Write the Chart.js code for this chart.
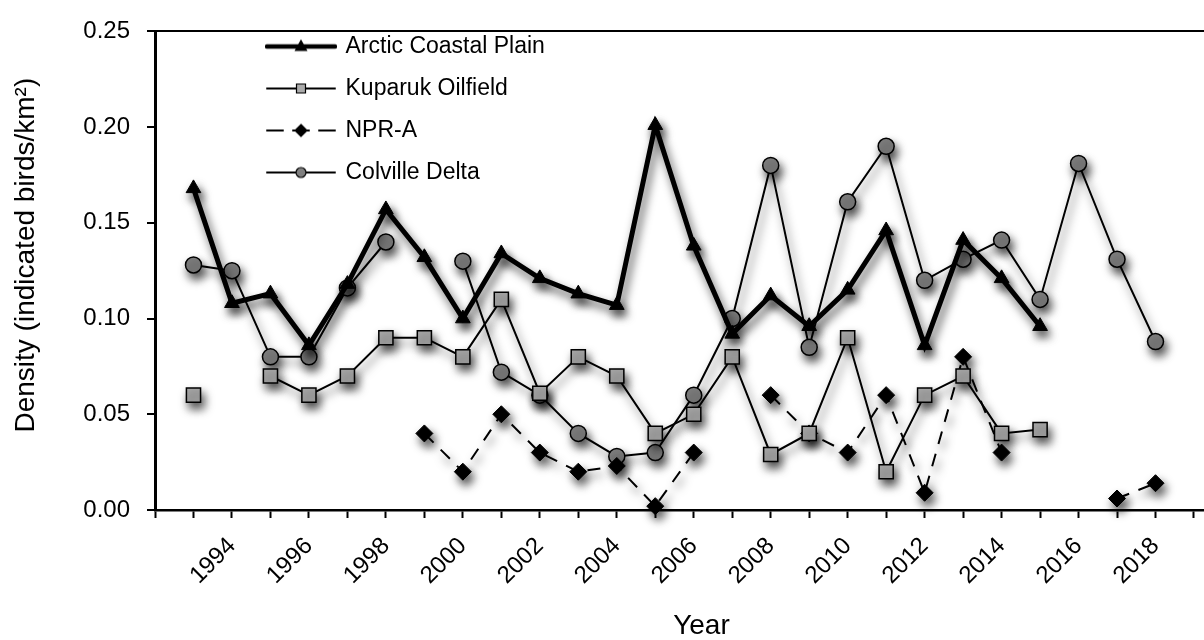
<!DOCTYPE html>
<html>
<head>
<meta charset="utf-8">
<title>Density by year</title>
<script src="https://cdn.jsdelivr.net/npm/chart.js@4.4.1/dist/chart.umd.min.js"></script>
<style>
  html, body { margin: 0; padding: 0; background: #fff; overflow: hidden; }
  /* the plot box runs on past the right edge of the window, as in the source figure */
  #wrap { width: 1267px; height: 640px; }
</style>
</head>
<body>
<div id="wrap"><canvas id="density"></canvas></div>
<script>
// survey years, one entry per year
var years = [1993, 1994, 1995, 1996, 1997, 1998, 1999, 2000, 2001, 2002, 2003, 2004, 2005,
             2006, 2007, 2008, 2009, 2010, 2011, 2012, 2013, 2014, 2015, 2016, 2017, 2018];

// densities (indicated birds/km2), null = no survey that year
var arctic   = [0.168, 0.108, 0.113, 0.086, 0.118, 0.157, 0.132, 0.100, 0.134, 0.121, 0.113, 0.107, 0.201,
                0.138, 0.092, 0.112, 0.096, 0.115, 0.146, 0.086, 0.141, 0.121, 0.096, null, null, null];
var kuparuk  = [0.060, null, 0.070, 0.060, 0.070, 0.090, 0.090, 0.080, 0.110, 0.061, 0.080, 0.070, 0.040,
                0.050, 0.080, 0.029, 0.040, 0.090, 0.020, 0.060, 0.070, 0.040, 0.042, null, null, null];
var npra     = [null, null, null, null, null, null, 0.040, 0.020, 0.050, 0.030, 0.020, 0.023, 0.002,
                0.030, null, 0.060, 0.040, 0.030, 0.060, 0.009, 0.080, 0.030, null, null, 0.006, 0.014];
var colville = [0.128, 0.125, 0.080, 0.080, 0.116, 0.140, null, 0.130, 0.072, 0.060, 0.040, 0.028, 0.030,
                0.060, 0.100, 0.180, 0.085, 0.161, 0.190, 0.120, 0.131, 0.141, 0.110, 0.181, 0.131, 0.088];

var seriesNames = ['Arctic Coastal Plain', 'Kuparuk Oilfield', 'NPR-A', 'Colville Delta'];
var yTicks = [0, 0.05, 0.10, 0.15, 0.20, 0.25];

const FONT = "'Liberation Sans', Arial, Helvetica, sans-serif";
Chart.defaults.font.family = FONT;
Chart.defaults.color = '#000';

const SQUARE_FILL = '#ababab';
const CIRCLE_FILL = '#808080';

// pair years with values for the linear x scale
const toPoints = vals => years.map((y, i) => ({ x: y, y: vals[i] }));

/*
 * small legend symbols: a line with the marker in the middle
 */
const legendIcon = (kind) => {
    const c = document.createElement('canvas');
    c.width = 72; c.height = 20;
    const g = c.getContext('2d');
    const cx = 36, cy = 10;
    g.strokeStyle = '#000';
    g.lineCap = 'round';
    g.lineWidth = kind === 'tri' ? 4.5 : 2;
    if (kind === 'dia') g.setLineDash([16, 10]);
    g.beginPath(); g.moveTo(2, cy); g.lineTo(70, cy); g.stroke();
    g.setLineDash([]);
    g.lineWidth = 1.2;
    g.beginPath();
    if (kind === 'tri') {
        g.moveTo(cx, cy - 6); g.lineTo(cx + 5.5, cy + 4); g.lineTo(cx - 5.5, cy + 4); g.closePath();
        g.fillStyle = '#000';
    } else if (kind === 'sq') {
        g.rect(cx - 4.5, cy - 4.5, 9, 9);
        g.fillStyle = SQUARE_FILL;
    } else if (kind === 'dia') {
        g.moveTo(cx, cy - 6); g.lineTo(cx + 6, cy); g.lineTo(cx, cy + 6); g.lineTo(cx - 6, cy); g.closePath();
        g.fillStyle = '#000';
    } else {
        g.arc(cx, cy, 5, 0, Math.PI * 2);
        g.fillStyle = CIRCLE_FILL;
    }
    g.fill(); g.stroke();
    return c;
};
const icons = [legendIcon('tri'), legendIcon('sq'), legendIcon('dia'), legendIcon('circ')];

// soft drop shadow under the lines and markers
const markShadow = {
    id: 'markShadow',
    beforeDatasetsDraw(chart) {
        const c = chart.ctx;
        c.save();
        c.shadowColor = 'rgba(0,0,0,0.7)';
        c.shadowBlur = 10;
        c.shadowOffsetX = 3;
        c.shadowOffsetY = 6;
    },
    afterDatasetsDraw(chart) { chart.ctx.restore(); }
};

// put the legend column at the top left inside the plot
const legendSpot = {
    id: 'legendSpot',
    beforeDraw(chart) {
        const l = chart.legend;
        const pad = l.options.labels.padding;
        l.left = 268 - pad;
        l.top = 35 - pad;
        l.right = l.left + 400;
        l.bottom = 600;
    }
};

new Chart('density', {
    type: 'line',
    data: {
        datasets: [{
            label: seriesNames[0],
            data: toPoints(arctic),
            borderColor: '#000', borderWidth: 5,
            pointStyle: 'triangle', pointRadius: 8.5, pointHoverRadius: 8.5,
            pointBackgroundColor: '#000', pointBorderColor: '#000', pointBorderWidth: 1
        }, {
            label: seriesNames[1],
            data: toPoints(kuparuk),
            borderColor: '#000', borderWidth: 2,
            pointStyle: 'rect', pointRadius: 10, pointHoverRadius: 10,
            pointBackgroundColor: SQUARE_FILL, pointBorderColor: '#000', pointBorderWidth: 1.5
        }, {
            label: seriesNames[2],
            data: toPoints(npra),
            borderColor: '#000', borderWidth: 2, borderDash: [13, 10],
            pointStyle: 'rectRot', pointRadius: 8.5, pointHoverRadius: 8.5,
            pointBackgroundColor: '#000', pointBorderColor: '#000', pointBorderWidth: 1
        }, {
            label: seriesNames[3],
            data: toPoints(colville),
            borderColor: '#000', borderWidth: 2,
            pointStyle: 'circle', pointRadius: 8, pointHoverRadius: 8,
            pointBackgroundColor: CIRCLE_FILL, pointBorderColor: '#000', pointBorderWidth: 1.5
        }].map(d => Object.assign(d, { tension: 0, spanGaps: false, clip: false }))
    },
    options: {
        responsive: true,
        maintainAspectRatio: false,
        animation: false,
        devicePixelRatio: 1,
        layout: { padding: { top: 16, right: 0, bottom: 0, left: 0 } },
        plugins: {
            tooltip: { enabled: false },
            legend: {
                position: 'chartArea',
                align: 'start',
                labels: {
                    usePointStyle: true,
                    pointStyleWidth: 66,
                    padding: 19,
                    color: '#000',
                    font: { size: 23, family: FONT },
                    generateLabels: () => seriesNames.map((name, i) => ({
                        text: name, pointStyle: icons[i], datasetIndex: i,
                        fillStyle: '#000', strokeStyle: '#000', lineWidth: 0, hidden: false
                    }))
                }
            }
        },
        scales: {
            x: {
                type: 'linear',
                min: 1992,
                max: 2020.4,
                afterFit: s => { s.height = 130; },
                border: { color: '#000', width: 2.5 },
                grid: { drawOnChartArea: false, tickLength: 8, tickColor: '#000', tickWidth: 2 },
                ticks: {
                    stepSize: 1,
                    includeBounds: false,
                    autoSkip: false,
                    minRotation: 45, maxRotation: 45,
                    padding: 14,
                    font: { size: 24 },
                    callback: v => (v > 1992 && v <= 2018 && v % 2 === 0) ? String(v) : ''
                },
                title: { display: true, text: 'Year', font: { size: 28, lineHeight: 1 }, padding: { top: 0, bottom: 0 } }
            },
            y: {
                min: 0,
                max: 0.25,
                afterFit: s => { s.width = 155; },
                afterBuildTicks: s => { s.ticks = yTicks.map(v => ({ value: v })); },
                border: { color: '#000', width: 3 },
                grid: {
                    color: c => (c.tick && c.tick.value === 0.25) ? '#000' : 'rgba(0,0,0,0)',
                    lineWidth: 2,
                    tickLength: 8, tickColor: '#000', tickWidth: 2
                },
                ticks: {
                    padding: 17,
                    font: { size: 24 },
                    callback: v => v.toFixed(2)
                },
                title: {
                    display: true,
                    // leading spaces lift the visible words a little above centre, as in the source
                    text: '\u00a0\u00a0\u00a0\u00a0Density (indicated birds/km²)',
                    font: { size: 28, lineHeight: 1 },
                    padding: { top: 12, bottom: 0 }
                }
            }
        }
    },
    plugins: [markShadow, legendSpot]
});
</script>
</body>
</html>
